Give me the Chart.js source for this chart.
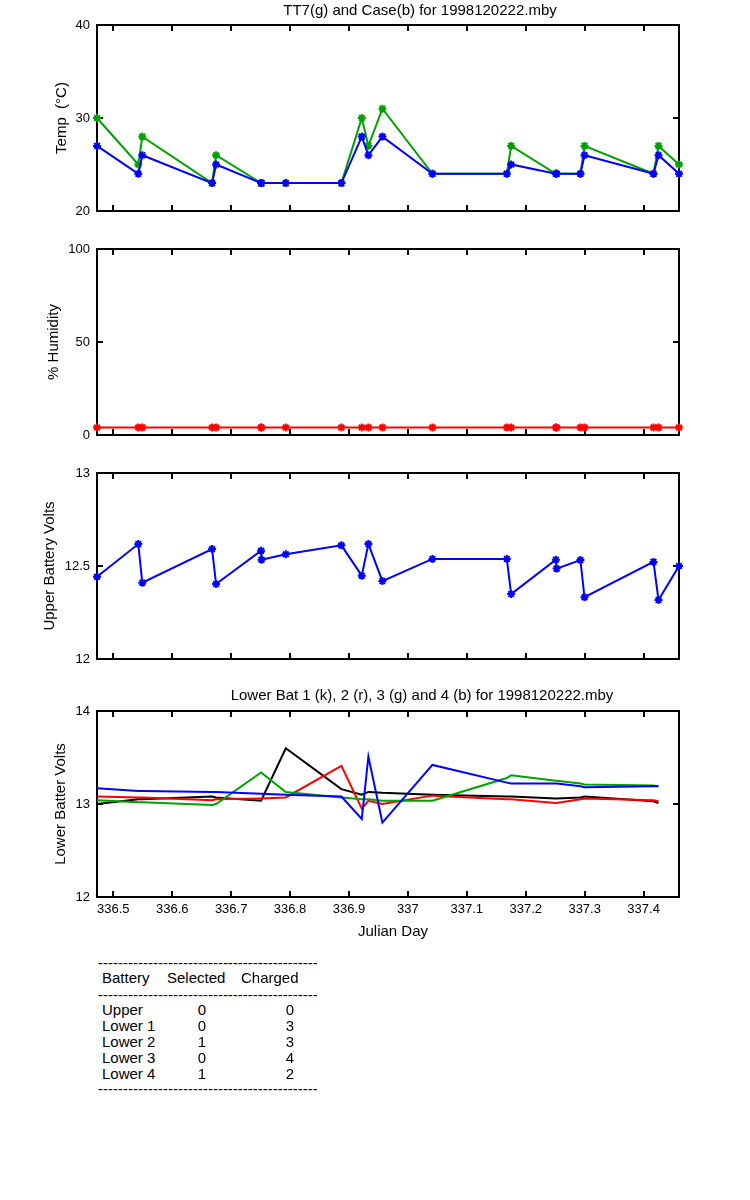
<!DOCTYPE html>
<html><head><meta charset="utf-8">
<script src="https://cdn.jsdelivr.net/npm/chart.js@4"></script>
<style>
body{margin:0;background:#fff;width:750px;height:1200px;position:relative;overflow:hidden;font-family:"Liberation Sans",Arial,sans-serif;font-size:15px;color:#000}
canvas{position:absolute;left:0}
.t{position:absolute;white-space:nowrap;transform:translate(-50%,-50%)}
.yl{position:absolute;white-space:nowrap;transform:translate(-50%,-50%) rotate(-90deg)}
.tx{position:absolute;white-space:nowrap;transform:translateY(-50%)}
.dash{position:absolute;left:98px;width:219px;overflow:hidden;white-space:nowrap;transform:translateY(-50%)}
</style></head><body>
<canvas id="c1" width="750" height="206" style="top:15px"></canvas>
<canvas id="c2" width="750" height="206" style="top:239px"></canvas>
<canvas id="c3" width="750" height="206" style="top:463px"></canvas>
<canvas id="c4" width="750" height="236" style="top:701px"></canvas>
<div class="t" style="left:420px;top:9px">TT7(g) and Case(b) for 1998120222.mby</div>
<div class="t" style="left:422px;top:694px">Lower Bat 1 (k), 2 (r), 3 (g) and 4 (b) for 1998120222.mby</div>
<div class="yl" style="left:60px;top:118px">Temp&nbsp; (°C)</div>
<div class="yl" style="left:52px;top:342px">% Humidity</div>
<div class="yl" style="left:48px;top:566px">Upper Battery Volts</div>
<div class="yl" style="left:59px;top:804px">Lower Batter Volts</div>
<div class="t" style="left:393px;top:930px">Julian Day</div>
<div id="table"></div>
<script>
// ---- data ----
const days = [336.4723,336.5424,336.5492,336.6676,336.6744,336.7508,336.7515,336.7927,336.8871,336.9217,336.9329,336.9567,337.0416,337.1679,337.1752,337.2511,337.2524,337.2928,337.2997,337.4168,337.4253,337.4601];
const tt7   = [30,25,28,23,26,23,23,23,23,30,27,31,24,24,27,24,24,24,27,24,27,25];
const caseT = [27,24,26,23,25,23,23,23,23,28,26,28,24,24,25,24,24,24,26,24,26,24];
const humidity = [4,4,4,4,4,4,4,4,4,4,4,4,4,4,4,4,4,4,4,4,4,4];
const upperVolts = [12.442,12.618,12.41,12.591,12.403,12.582,12.534,12.563,12.611,12.448,12.618,12.419,12.538,12.538,12.349,12.534,12.486,12.532,12.332,12.522,12.317,12.50];
const lower1 = [13.00,13.05,13.05,13.08,13.07,13.035,13.035,13.60,13.16,13.10,13.13,13.12,13.10,13.08,13.08,13.06,13.06,13.07,13.08,13.03,13.01,null];
const lower2 = [13.08,13.07,13.07,13.04,13.05,13.06,13.06,13.07,13.41,12.95,13.035,13.00,13.09,13.05,13.05,13.01,13.01,13.05,13.06,13.04,13.03,null];
const lower3 = [13.04,13.02,13.02,12.99,13.00,13.34,13.34,13.13,13.07,13.05,13.05,13.035,13.035,13.28,13.31,13.25,13.25,13.22,13.21,13.20,13.19,null];
const lower4 = [13.17,13.14,13.14,13.13,13.13,13.11,13.11,13.10,13.08,12.84,13.51,12.80,13.42,13.23,13.22,13.22,13.22,13.19,13.18,13.19,13.19,null];
const xTicks = [336.5,336.6,336.7,336.8,336.9,337.0,337.1,337.2,337.3,337.4];
const xTickLabels = ['336.5','336.6','336.7','336.8','336.9','337','337.1','337.2','337.3','337.4'];
const tempTicks = [20,30,40], tempTickLabels = ['20','30','40'];
const humTicks = [0,50,100], humTickLabels = ['0','50','100'];
const upTicks = [12,12.5,13], upTickLabels = ['12','12.5','13'];
const lowTicks = [12,13,14], lowTickLabels = ['12','13','14'];
const batteries = ['Upper','Lower 1','Lower 2','Lower 3','Lower 4'];
const selected = [0,0,1,0,1];
const charged = [0,3,3,4,2];

// ---- helpers ----
const FONT = {family:'"Liberation Sans", Arial, sans-serif', size:13};
const GREEN = '#00a000', BLUE = '#0000ff', RED = '#ff0000', BLACK = '#000000';
const pts = v => days.map((d,i)=>({x:d,y:v[i]}));

const framePlugin = {
  id:'frame',
  beforeDatasetsDraw(chart){
    const {ctx, chartArea:a, scales} = chart;
    ctx.save();
    ctx.strokeStyle='#000'; ctx.lineWidth=2;
    ctx.strokeRect(a.left, a.top, a.right-a.left, a.bottom-a.top);
    const L=6;
    ctx.beginPath();
    scales.x.ticks.forEach(t=>{const p=Math.round(scales.x.getPixelForValue(t.value));
      ctx.moveTo(p,a.top); ctx.lineTo(p,a.top+L); ctx.moveTo(p,a.bottom); ctx.lineTo(p,a.bottom-L);});
    scales.y.ticks.forEach(t=>{const p=Math.round(scales.y.getPixelForValue(t.value));
      if(p<=a.top+2||p>=a.bottom-2) return;
      ctx.moveTo(a.left,p); ctx.lineTo(a.left+L,p); ctx.moveTo(a.right,p); ctx.lineTo(a.right-L,p);});
    ctx.stroke(); ctx.restore();
  }
};

function makeChart(id, datasets, yMin, yMax, yTicks, yLabels, showX){
  const xTickMap = {}; xTicks.forEach((v,i)=>xTickMap[v.toFixed(1)]=xTickLabels[i]);
  const yTickMap = {}; yTicks.forEach((v,i)=>yTickMap[v.toFixed(2)]=yLabels[i]);
  return new Chart(document.getElementById(id), {
    type:'line',
    data:{datasets},
    options:{
      responsive:false, animation:false, devicePixelRatio:1,
      layout:{padding:{left:0,right:71,top:10,bottom:showX?0:10}},
      plugins:{legend:{display:false}, tooltip:{enabled:false}, title:{display:false}},
      elements:{line:{tension:0}},
      scales:{
        x:{type:'linear', min:days[0], max:days[days.length-1],
           grid:{display:false, drawTicks:false}, border:{display:false},
           afterBuildTicks:s=>{s.ticks = xTicks.map(v=>({value:v}));},
           afterFit:s=>{s.height = showX?40:0; s.paddingLeft=0; s.paddingRight=0;},
           ticks:{display:showX, font:FONT, color:'#000', padding:5, maxRotation:0, autoSkip:false,
                  callback:v=>xTickMap[Number(v).toFixed(1)]}},
        y:{type:'linear', min:yMin, max:yMax,
           grid:{display:false, drawTicks:false}, border:{display:false},
           afterBuildTicks:s=>{s.ticks = yTicks.map(v=>({value:v}));},
           afterFit:s=>{s.width = 97; s.paddingTop=0; s.paddingBottom=0;},
           ticks:{font:FONT, color:'#000', padding:7, callback:v=>yTickMap[Number(v).toFixed(2)]}}
      }
    },
    plugins:[framePlugin]
  });
}
const mk = (data,color,order,marker)=>({data:pts(data), borderColor:color, backgroundColor:color,
  borderWidth:2, pointStyle:'star', pointRadius:marker?4:0, pointBorderWidth:2,
  pointBorderColor:color, order, clip:false, spanGaps:false});

makeChart('c1',[mk(caseT,BLUE,0,true), mk(tt7,GREEN,1,true)],20,40,tempTicks,tempTickLabels,false);
makeChart('c2',[mk(humidity,RED,0,true)],0,100,humTicks,humTickLabels,false);
makeChart('c3',[mk(upperVolts,BLUE,0,true)],12,13,upTicks,upTickLabels,false);
makeChart('c4',[mk(lower4,BLUE,0,false), mk(lower3,GREEN,1,false), mk(lower2,RED,2,false), mk(lower1,BLACK,3,false)],12,14,lowTicks,lowTickLabels,true);

// ---- table ----
const tbl = document.getElementById('table');
const dashes = '-'.repeat(80);
const add = (cls, style, text)=>{const d=document.createElement('div'); d.className=cls; d.setAttribute('style',style); d.textContent=text; tbl.appendChild(d);};
add('dash','top:962px',dashes);
add('tx','left:102px;top:977px','Battery');
add('tx','left:167px;top:977px','Selected');
add('tx','left:241px;top:977px','Charged');
add('dash','top:994px',dashes);
batteries.forEach((b,i)=>{
  const y = 1009 + i*16;
  add('tx','left:102px;top:'+y+'px',b);
  add('t','left:202px;top:'+y+'px',String(selected[i]));
  add('t','left:290px;top:'+y+'px',String(charged[i]));
});
add('dash','top:1088px',dashes);
</script>
</body></html>
